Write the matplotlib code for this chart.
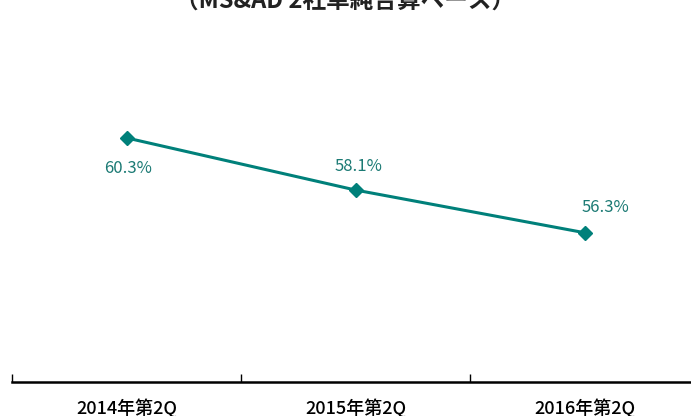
import numpy as np
import matplotlib
matplotlib.use('Agg')
import matplotlib.pyplot as plt
from matplotlib.ticker import FixedLocator

plt.rcParams['font.family'] = ['Noto Sans CJK JP', 'DejaVu Sans']

# data
categories = ['2014年第2Q', '2015年第2Q', '2016年第2Q']
ratio = [60.3, 58.1, 56.3]
value_labels = ['60.3%', '58.1%', '56.3%']
title = '（MS&AD 2社単純合算ベース）'

teal = '#00807a'
label_col = '#1b7a74'

fig = plt.figure(figsize=(6.91, 4.16), dpi=100)
ax = fig.add_axes([12/691, 34/416, 687/691, 382/416])

xs = np.arange(len(categories))
ax.plot(xs, ratio, color=teal, lw=2.2, marker='D', ms=7, mec=teal, mfc=teal)

# value labels: first one below the point, others above
offsets = [(1, -22), (2, 17), (15, 18)]
for i in range(len(ratio)):
  ax.annotate(value_labels[i], (xs[i], ratio[i]), xytext=offsets[i], textcoords='offset points',
              ha='center', va='center', fontsize=12, color=label_col)

ax.set_xlim(-0.5, 2.5)
ax.set_ylim(50, 50 + 382/23.7)

for s in ['top', 'right', 'left']:
  ax.spines[s].set_visible(False)
ax.spines['bottom'].set_linewidth(1.8)
ax.set_yticks([])

ax.xaxis.set_major_locator(FixedLocator(xs))
ax.set_xticklabels(categories, fontsize=13, fontweight='medium')
ax.xaxis.set_minor_locator(FixedLocator([-0.5, 0.5, 1.5, 2.5]))
ax.tick_params(axis='x', which='major', length=0, pad=12)
ax.tick_params(axis='x', which='minor', direction='in', length=6, width=1)

fig.text(0.5, 1.0 - 1/416, title, ha='center', va='center', fontsize=17, fontweight='bold', color='#222222')

fig.savefig('out.png', dpi=100)
